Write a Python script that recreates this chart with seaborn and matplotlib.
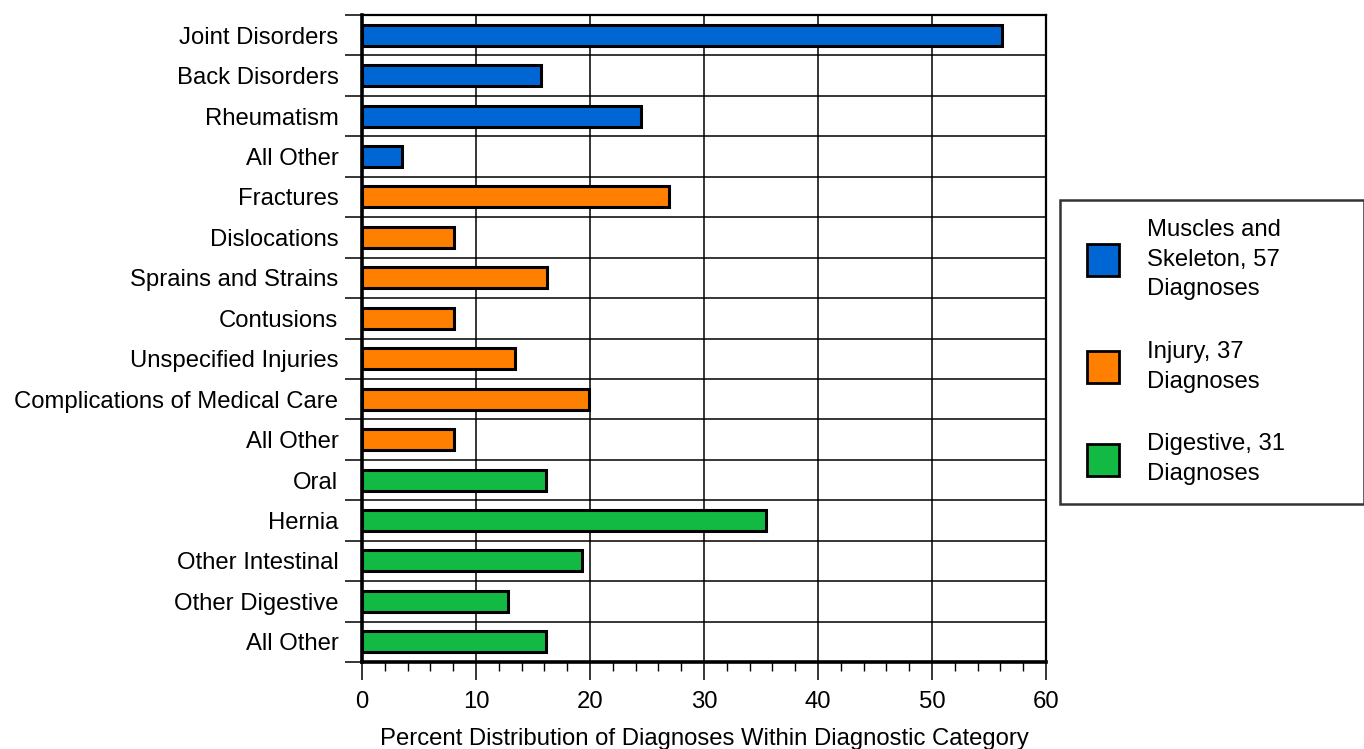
import matplotlib
matplotlib.use("Agg")
import matplotlib.pyplot as plt
import seaborn as sns
import pandas as pd
from matplotlib.patches import Patch, Rectangle
from matplotlib.legend_handler import HandlerPatch
from matplotlib.ticker import MultipleLocator, FixedLocator

# ---- data ----
labels = ["Joint Disorders", "Back Disorders", "Rheumatism", "All Other",
          "Fractures", "Dislocations", "Sprains and Strains", "Contusions",
          "Unspecified Injuries", "Complications of Medical Care", "All Other",
          "Oral", "Hernia", "Other Intestinal", "Other Digestive", "All Other"]
values = [56.1, 15.7, 24.5, 3.5,
          26.9, 8.1, 16.2, 8.1, 13.4, 19.9, 8.1,
          16.1, 35.4, 19.3, 12.8, 16.1]
group_names = ["Muscles and\nSkeleton, 57\nDiagnoses",
               "Injury, 37\nDiagnoses",
               "Digestive, 31\nDiagnoses"]
group_sizes = [4, 7, 5]
colors = ["#0066D3", "#FF7F00", "#12BA44"]

groups = []
for g, n in zip(group_names, group_sizes):
    groups += [g] * n
row_ids = [f"r{i}" for i in range(len(labels))]
df = pd.DataFrame({"row": row_ids, "value": values, "group": groups})

# ---- style ----
sns.set_style("white")
plt.rcParams["font.family"] = ["Liberation Sans", "DejaVu Sans"]
plt.rcParams["text.color"] = "black"
plt.rcParams["axes.labelcolor"] = "black"
plt.rcParams["xtick.color"] = "black"
plt.rcParams["ytick.color"] = "black"
FS = 17.2

fig = plt.figure(figsize=(13.64, 7.49), dpi=100)
ax = fig.add_axes([362 / 1364, 1 - 662 / 749, (1046 - 362) / 1364, (662 - 15) / 749])

sns.barplot(data=df, x="value", y="row", hue="group", hue_order=group_names,
            palette=colors, dodge=False, width=0.52, edgecolor="black",
            linewidth=2.2, orient="h", legend=False, saturation=1, ax=ax)

n = len(labels)
ax.set_xlim(0, 60)
ax.set_ylim(n - 0.5, -0.5)
ax.set_axisbelow(True)

# x axis ticks
ax.xaxis.set_major_locator(MultipleLocator(10))
ax.xaxis.set_minor_locator(MultipleLocator(2))
ax.tick_params(axis="x", which="major", direction="out", length=13, width=1.1,
               color="black", labelcolor="black", labelsize=FS, pad=8, bottom=True)
ax.tick_params(axis="x", which="minor", direction="out", length=6.5, width=1.0,
               color="black", bottom=True)

# y axis ticks: labels at centers, tick marks at boundaries
ax.set_yticks(range(n))
ax.set_yticklabels(labels)
ax.yaxis.set_minor_locator(FixedLocator([i - 0.5 for i in range(n + 1)]))
ax.tick_params(axis="y", which="major", length=0, labelsize=FS, pad=17,
               labelcolor="black")
ax.tick_params(axis="y", which="minor", direction="out", length=12.5, width=1.1,
               color="black", left=True)

ax.grid(False)
ax.grid(True, axis="x", which="major", color="black", linewidth=1.1)
ax.grid(True, axis="y", which="minor", color="black", linewidth=1.1)

for side, lw in [("left", 2.6), ("bottom", 2.6), ("top", 1.6), ("right", 1.6)]:
    ax.spines[side].set_visible(True)
    ax.spines[side].set_color("black")
    ax.spines[side].set_linewidth(lw)

ax.set_ylabel("")
ax.set_xlabel("Percent Distribution of Diagnoses Within Diagnostic Category",
              fontsize=FS, labelpad=11, color="black")


# legend: square swatches placed at the right end of the handle box
def square_patch(legend, orig_handle, xdescent, ydescent, width, height, fontsize):
    side = 32 * 72 / 100  # 32 px square
    cy = -ydescent + height / 2
    return Rectangle((-xdescent + width - side, cy - side / 2), side, side)


handles = [Patch(facecolor=c, edgecolor="black", linewidth=2.0) for c in colors]
leg = fig.legend(handles, group_names, loc="upper left",
                 bbox_to_anchor=(1060 / 1364, 1 - 200 / 749, 304 / 1364, 0),
                 mode="expand", fontsize=FS, frameon=True, fancybox=False,
                 handlelength=1.68, handleheight=1.34, handletextpad=1.15,
                 labelspacing=1.7, borderpad=0.8, borderaxespad=0,
                 handler_map={Patch: HandlerPatch(patch_func=square_patch)})
leg.get_frame().set_edgecolor("black")
leg.get_frame().set_linewidth(1.8)
for t in leg.get_texts():
    t.set_linespacing(1.45)
    t.set_color("black")

fig.savefig("out.png", dpi=100)
